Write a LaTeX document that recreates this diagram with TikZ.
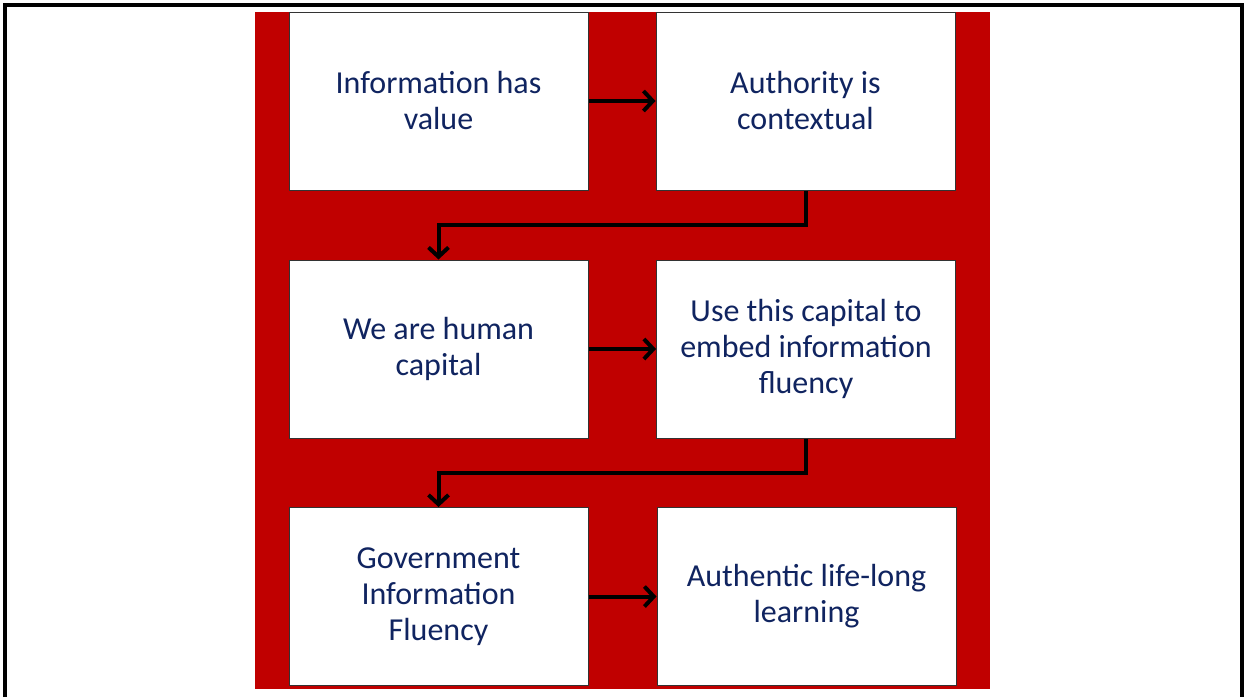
\documentclass[tikz,border=0pt]{standalone}
\usepackage{fontspec}
\setmainfont{Carlito}
\usepackage{xcolor}
\usetikzlibrary{arrows.meta}
\definecolor{slidered}{RGB}{192,0,0}
\definecolor{textblue}{RGB}{16,36,96}

\begin{document}
\begin{tikzpicture}[x=0.75pt,y=-0.75pt]
  \tikzset{stepbox/.style = {shape=rectangle,draw=black!80,line width=0.75pt,fill=white,minimum width=224.25pt,minimum height=133.5pt,inner sep=0pt,align=center,text=textblue,font=\fontsize{24}{27}\selectfont}}
  \tikzset{flowarrow/.style = {-{Straight Barb[length=7pt,width=15pt]},line width=3pt}}

  \useasboundingbox (0,0) rectangle (1244,697);
  % slide frame
  \draw[line width=3pt] (4.5,697) -- (4.5,4.5) -- (1241.5,4.5) -- (1241.5,697);
  % red background
  \fill[slidered] (255,12) rectangle (990,689);

	\node[stepbox] (IV) at (438.5,101) {Information has\\value};
	\node[stepbox] (AC) at (805.5,101) {Authority is\\contextual};

	\node[stepbox] (HC) at (438.5,349) {We are human\\capital};
	\node[stepbox] (EF) at (806,349) {Use this capital to\\embed information\\fluency};

	\node[stepbox] (GF) at (438.5,596.5) {Government\\Information\\Fluency};
	\node[stepbox] (LL) at (806.5,596.5) {Authentic life-long\\learning};

    \foreach \from/\to in {IV/AC,HC/EF,GF/LL}
    \draw[flowarrow] (\from) -- (\to);

    \draw[flowarrow] (AC.south) -- ++(0,34) -| (HC.north);
    \draw[flowarrow] (EF.south) -- ++(0,34) -| (GF.north);

\end{tikzpicture}
\end{document}
